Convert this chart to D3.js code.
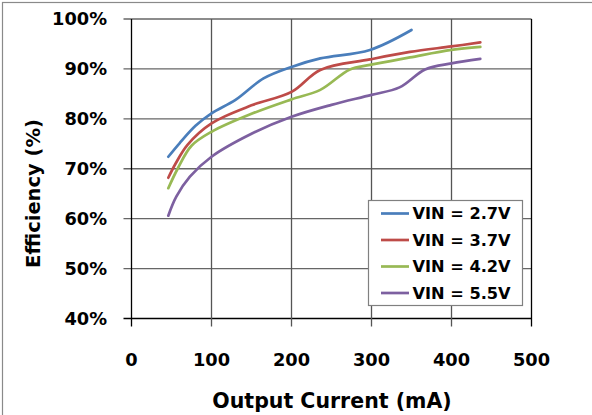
<!DOCTYPE html>
<html>
<head>
<meta charset="utf-8">
<script src="https://cdn.jsdelivr.net/npm/d3@7"></script>
<style>
  body { margin: 0; background: #fff; }
  svg { display: block; }
  text { font-family: "DejaVu Sans", sans-serif; font-weight: bold; fill: #000; }
</style>
</head>
<body>
<svg id="chart" width="592" height="415"></svg>
<script>
// Efficiency vs. output current for four input voltages
const seriesLabels = ["VIN = 2.7V", "VIN = 3.7V", "VIN = 4.2V", "VIN = 5.5V"];
const seriesColors = ["#4a7ebb", "#be4b48", "#98b954", "#7d60a0"];

const current27 = [46, 60, 80, 100, 130, 165, 200, 236, 298, 350];
const eff27     = [72.4, 75.1, 78.6, 81.1, 83.8, 88.1, 90.4, 92.1, 93.8, 97.8];

const current37 = [46, 55, 70, 100, 150, 200, 236, 298, 348, 400, 436];
const eff37     = [68.2, 71.0, 74.8, 79.1, 82.7, 85.4, 89.8, 91.9, 93.4, 94.5, 95.3];

const current42 = [46, 58, 75, 100, 150, 200, 236, 273, 298, 348, 400, 436];
const eff42     = [66.1, 70.1, 74.6, 77.4, 81.0, 83.9, 85.8, 89.9, 90.8, 92.3, 93.8, 94.4];

const current55 = [46, 56, 73, 100, 150, 200, 250, 300, 335, 367, 400, 436];
const eff55     = [60.6, 64.4, 68.4, 72.4, 77.0, 80.4, 82.8, 84.8, 86.3, 89.9, 91.1, 92.0];

const xTicks = [0, 100, 200, 300, 400, 500];
const yTicks = [40, 50, 60, 70, 80, 90, 100];

const currents = [current27, current37, current42, current55];
const effs = [eff27, eff37, eff42, eff55];

const svg = d3.select("#chart");
const plotLeft = 131.5, plotRight = 531.5, plotTop = 19, plotBottom = 318.5;

const x = d3.scaleLinear().domain([0, 500]).range([plotLeft, plotRight]);
const y = d3.scaleLinear().domain([40, 100]).range([plotBottom, plotTop]);

// outer chart frame
svg.append("rect")
  .attr("x", 2.5).attr("y", 2.5).attr("width", 640).attr("height", 460)
  .attr("fill", "none").attr("stroke", "#8a8a8a").attr("stroke-width", 1.2);

// horizontal grid lines (extend left as tick marks)
svg.append("g").selectAll("line").data(yTicks).join("line")
  .attr("x1", plotLeft - 8).attr("x2", plotRight)
  .attr("y1", d => y(d)).attr("y2", d => y(d))
  .attr("stroke", d => d === 40 ? "#000" : "#666")
  .attr("stroke-width", 1.3);

// vertical grid lines (extend down as tick marks)
svg.append("g").selectAll("line").data(xTicks).join("line")
  .attr("x1", d => x(d)).attr("x2", d => x(d))
  .attr("y1", plotTop).attr("y2", plotBottom + 8)
  .attr("stroke", d => (d === 0 || d === 500) ? "#000" : "#555")
  .attr("stroke-width", 1.3);

// tick labels
svg.append("g").selectAll("text").data(yTicks).join("text")
  .attr("x", 107).attr("y", d => y(d))
  .attr("dy", "0.36em")
  .attr("text-anchor", "end")
  .attr("font-size", 17.8)
  .text(d => d + "%");

svg.append("g").selectAll("text").data(xTicks).join("text")
  .attr("x", d => x(d)).attr("y", 366)
  .attr("text-anchor", "middle")
  .attr("font-size", 17.8)
  .text(d => d);

// axis titles
svg.append("text")
  .attr("x", 332).attr("y", 408)
  .attr("text-anchor", "middle")
  .attr("font-size", 20.5)
  .text("Output Current (mA)");

svg.append("text")
  .attr("transform", "translate(40,193.5) rotate(-90)")
  .attr("text-anchor", "middle")
  .attr("font-size", 19.5)
  .text("Efficiency (%)");

// series curves
const line = d3.line()
  .x(d => x(d[0]))
  .y(d => y(d[1]))
  .curve(d3.curveCatmullRom.alpha(0.5));

svg.append("g").selectAll("path").data(d3.range(4)).join("path")
  .attr("d", i => line(currents[i].map((c, k) => [c, effs[i][k]])))
  .attr("fill", "none")
  .attr("stroke", i => seriesColors[i])
  .attr("stroke-width", 2.7)
  .attr("stroke-linecap", "round")
  .attr("stroke-linejoin", "round");

// legend
const lg = svg.append("g");
lg.append("rect")
  .attr("x", 368.5).attr("y", 200.5).attr("width", 154).attr("height", 105)
  .attr("fill", "#fff").attr("stroke", "#808080").attr("stroke-width", 1.2);

const rows = lg.selectAll("g.row").data(d3.range(4)).join("g")
  .attr("class", "row")
  .attr("transform", i => `translate(0,${213.5 + i * 26.5})`);
rows.append("line")
  .attr("x1", 381).attr("x2", 409).attr("y1", 0).attr("y2", 0)
  .attr("stroke", i => seriesColors[i]).attr("stroke-width", 2.7);
rows.append("text")
  .attr("x", 412.5).attr("y", 0).attr("dy", "0.36em")
  .attr("font-size", 16.2)
  .text(i => seriesLabels[i]);
</script>
</body>
</html>
